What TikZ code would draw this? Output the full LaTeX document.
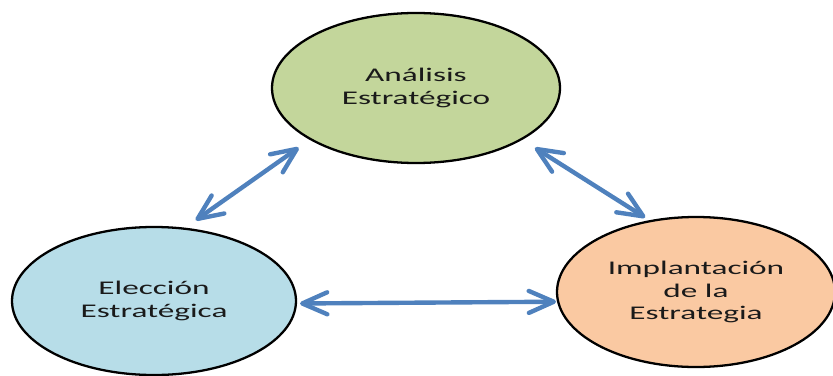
\documentclass[tikz,border=0pt]{standalone}
\usepackage{fontspec}
\setmainfont[FakeStretch=1.72]{Carlito}
\usepackage{xcolor}
\usepackage{tikz}
\usetikzlibrary{arrows.meta,shapes.geometric}
\definecolor{verde}{HTML}{C3D69B}
\definecolor{celeste}{HTML}{B7DDE8}
\definecolor{naranja}{HTML}{FAC9A2}
\definecolor{azul}{HTML}{4F81BD}
\definecolor{texto}{HTML}{1A1A1A}
\begin{document}
\begin{tikzpicture}[font=\fontsize{11}{13}\selectfont,
elipse/.style={ellipse,draw=black,line width=1.3pt,inner sep=0pt,align=center,text=texto},
flecha/.style={{Straight Barb[round,length=0.5cm,width=0.44cm]}-{Straight Barb[round,length=0.5cm,width=0.44cm]},line width=2.5pt,azul}]
\useasboundingbox(0,0)rectangle(16.66,7.5);
\node[elipse,fill=verde,minimum width=5.76cm,minimum height=3cm](ana)at(8.32,5.74){An\'alisis\\Estrat\'egico};
\node[elipse,fill=celeste,minimum width=5.68cm,minimum height=2.96cm](ele)at(3.08,1.48){Elecci\'on\\Estrat\'egica};
\node[elipse,fill=naranja,minimum width=5.56cm,minimum height=3cm](imp)at(13.92,1.66){Implantaci\'on\\de la\\Estrategia};
\draw[flecha,shorten <=0.27cm,shorten >=0.26cm](ana.206)--(ele.67);
\draw[flecha,shorten <=0.3cm,shorten >=0.1cm](ana.334.6)--(imp.123.7);
\draw[flecha,shorten <=0.06cm,shorten >=0.02cm](ele.-1)--(imp.184.5);
\end{tikzpicture}
\end{document}
